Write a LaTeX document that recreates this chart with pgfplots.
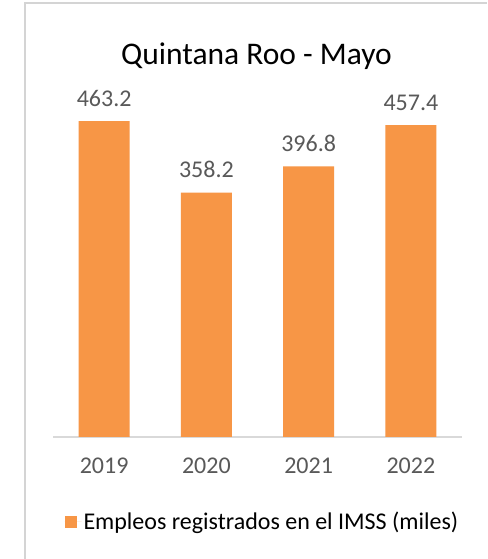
\documentclass[border=0pt]{standalone}
\usepackage{pgfplots}
\pgfplotsset{compat=1.18}
\usepackage{fontspec}
\setmainfont{Carlito}
\definecolor{barorange}{HTML}{F79646}
\definecolor{txtgray}{HTML}{595959}
\definecolor{axgray}{HTML}{D9D9D9}
\definecolor{framegray}{HTML}{D4D4D4}
\begin{document}
\begin{tikzpicture}[x=1pt,y=1pt]
\useasboundingbox (0,0) rectangle (487,559);
\fill[white] (0,0) rectangle (487,559);
\draw[framegray, line width=2pt] (25,0) -- (25,556) -- (487,556);
\node[font=\fontsize{31.5}{38}\selectfont, text=black] at (256.5,503) {Quintana Roo - Mayo};
\begin{axis}[
  at={(53pt,122pt)}, anchor=south west,
  scale only axis, width=409pt, height=341pt,
  xmin=-0.5, xmax=3.5, ymin=0, ymax=500,
  axis y line=none,
  axis x line*=bottom,
  x axis line style={-, draw=axgray, line width=1.2pt},
  major tick length=0pt,
  xtick={0,1,2,3},
  xticklabels={2019,2020,2021,2022},
  xticklabel style={font=\fontsize{24}{29}\selectfont, text=txtgray, yshift=-17pt},
  ybar, bar width=51pt,
  point meta=explicit symbolic,
  nodes near coords,
  nodes near coords style={font=\fontsize{24}{29}\selectfont, text=txtgray, yshift=11pt},
  legend style={at={(0.512,-0.249)}, anchor=center, draw=none, fill=none,
    font=\fontsize{24}{29}\selectfont, text=black},
  legend image code/.code={\fill[barorange] (0pt,-6pt) rectangle (12pt,6pt);\path (0pt,0pt) -- (17pt,0pt);},
  /pgf/number format/assume math mode=true,
]
\addplot[fill=barorange, draw=none] table[meta=lab] {
x y lab
0 463.2 463.2
1 358.2 358.2
2 396.8 396.8
3 457.4 457.4
};
\addlegendentry{Empleos registrados en el IMSS (miles)}
\end{axis}
\end{tikzpicture}
\end{document}
